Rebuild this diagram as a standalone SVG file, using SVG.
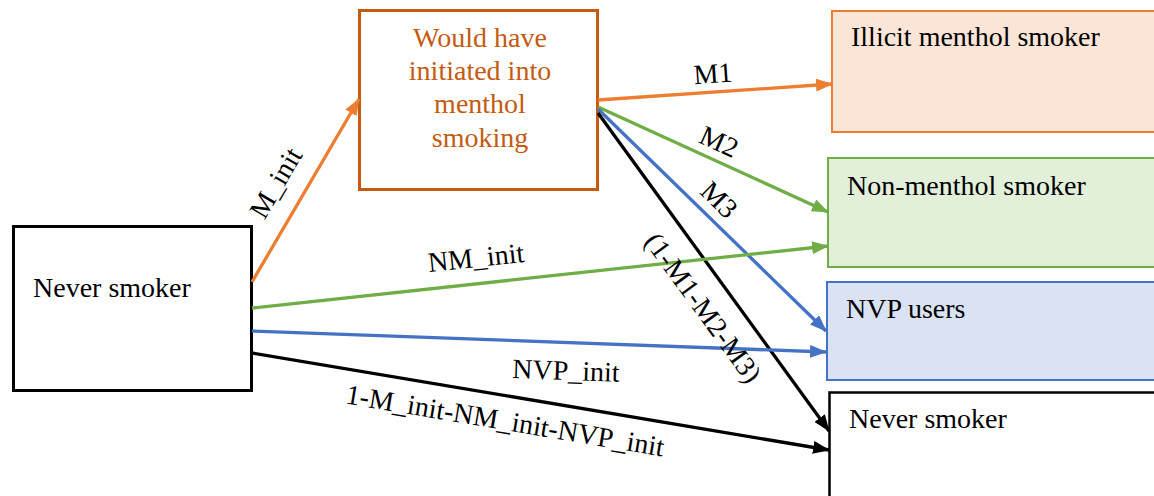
<svg xmlns="http://www.w3.org/2000/svg" width="1154" height="496" viewBox="0 0 1154 496">
<style>
text{font-family:'Liberation Serif','Times New Roman',Tinos,'Noto Serif','DejaVu Serif',FreeSerif,serif;font-size:28px;fill:#000}
.lbl{text-anchor:middle}
.ln{fill:none;stroke-width:3.3}
</style>
<defs>
<marker id="aO" markerWidth="17" markerHeight="13" refX="16" refY="6.5" orient="auto" markerUnits="userSpaceOnUse"><path d="M0,0 L17,6.5 L0,13 z" fill="#ED7D31"/></marker>
<marker id="aG" markerWidth="17" markerHeight="13" refX="16" refY="6.5" orient="auto" markerUnits="userSpaceOnUse"><path d="M0,0 L17,6.5 L0,13 z" fill="#70AD47"/></marker>
<marker id="aB" markerWidth="17" markerHeight="13" refX="16" refY="6.5" orient="auto" markerUnits="userSpaceOnUse"><path d="M0,0 L17,6.5 L0,13 z" fill="#4472C4"/></marker>
<marker id="aK" markerWidth="17" markerHeight="13" refX="16" refY="6.5" orient="auto" markerUnits="userSpaceOnUse"><path d="M0,0 L17,6.5 L0,13 z" fill="#000"/></marker>
</defs>
<rect width="1154" height="496" fill="#fff"/>
<g id="never-left">
<rect x="13.5" y="226.5" width="238" height="164" fill="#fff" stroke="#000" stroke-width="3"/>
<text x="33" y="297">Never smoker</text>
</g>
<g id="would-initiate">
<rect x="359.5" y="10.5" width="238" height="179" fill="#fff" stroke="#C55A11" stroke-width="3"/>
<text class="lbl" x="480" y="47" style="fill:#C55A11">Would have</text>
<text class="lbl" x="480" y="80" style="fill:#C55A11">initiated into</text>
<text class="lbl" x="480" y="113" style="fill:#C55A11">menthol</text>
<text class="lbl" x="480" y="147" style="fill:#C55A11">smoking</text>
</g>
<g id="illicit">
<rect x="832" y="11" width="340" height="121" fill="#FBE5D6" stroke="#ED7D31" stroke-width="2"/>
<text x="851" y="46">Illicit menthol smoker</text>
</g>
<g id="nonmenthol">
<rect x="828" y="158" width="340" height="109" fill="#E2F0D9" stroke="#70AD47" stroke-width="2"/>
<text x="847" y="195">Non-menthol smoker</text>
</g>
<g id="nvp">
<rect x="827" y="282" width="340" height="98" fill="#DAE3F3" stroke="#4472C4" stroke-width="2"/>
<text x="846" y="318">NVP users</text>
</g>
<g id="never-right">
<rect x="829.5" y="392.5" width="340" height="120" fill="#fff" stroke="#000" stroke-width="2.5"/>
<text x="849" y="428">Never smoker</text>
</g>
<g id="connectors">
<line class="ln" x1="252" y1="282" x2="359" y2="99" stroke="#ED7D31" marker-end="url(#aO)"/>
<line class="ln" x1="598" y1="100" x2="832" y2="84" stroke="#ED7D31" marker-end="url(#aO)"/>
<line class="ln" x1="598" y1="107" x2="828" y2="212" stroke="#70AD47" marker-end="url(#aG)"/>
<line class="ln" x1="598" y1="109" x2="826" y2="331" stroke="#4472C4" marker-end="url(#aB)"/>
<line class="ln" x1="598" y1="113" x2="829" y2="431" stroke="#000" marker-end="url(#aK)"/>
<line class="ln" x1="252" y1="308" x2="828" y2="246" stroke="#70AD47" marker-end="url(#aG)"/>
<line class="ln" x1="252" y1="331" x2="826" y2="352" stroke="#4472C4" marker-end="url(#aB)"/>
<line class="ln" x1="252" y1="353" x2="829" y2="450" stroke="#000" marker-end="url(#aK)"/>
<text class="lbl" transform="translate(276,183) rotate(-59.5)" y="9">M_init</text>
<text class="lbl" transform="translate(713,74) rotate(-4)" y="9">M1</text>
<text class="lbl" transform="translate(719,142) rotate(24.5)" y="9">M2</text>
<text class="lbl" transform="translate(719,200) rotate(44.5)" y="9">M3</text>
<text class="lbl" transform="translate(703,308) rotate(54)" y="9">(1-M1-M2-M3)</text>
<text class="lbl" transform="translate(476,258) rotate(-6)" y="9">NM_init</text>
<text class="lbl" transform="translate(566,371) rotate(2)" y="9">NVP_init</text>
<text class="lbl" transform="translate(505,421) rotate(9.5)" y="9">1-M_init-NM_init-NVP_init</text>
</g>
</svg>
